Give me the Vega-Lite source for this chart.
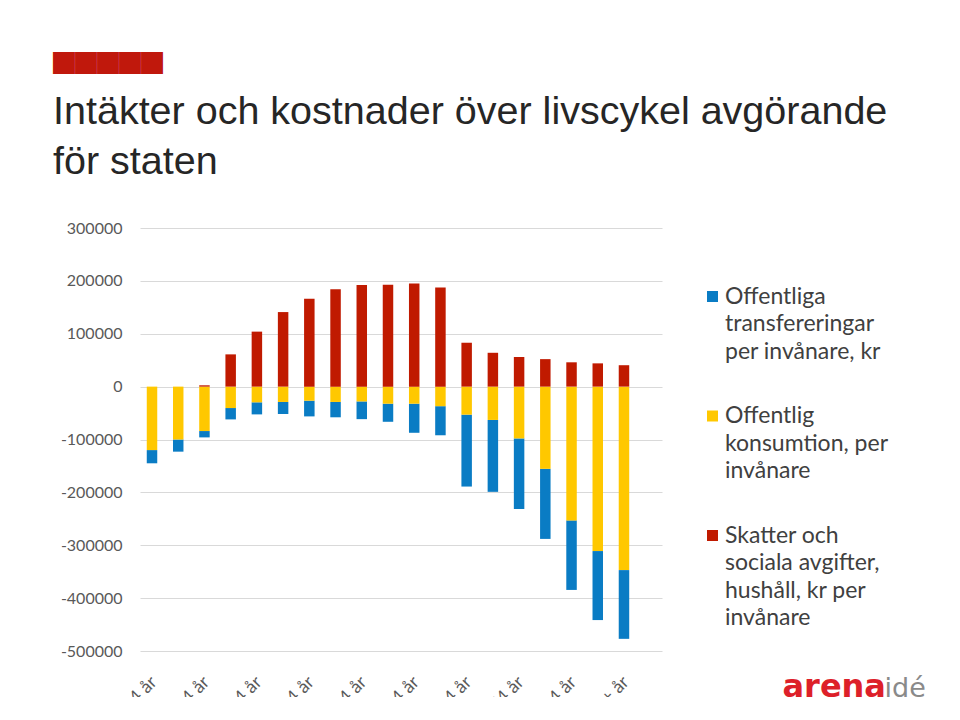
{
  "$schema": "https://vega.github.io/schema/vega-lite/v6.json",
  "width": 522,
  "height": 423,
  "autosize": {"type": "none"},
  "padding": {"left": 140, "top": 228, "right": 298, "bottom": 46},
  "background": "#ffffff",
  "title": {
    "text": "█████",
    "subtitle": ["Intäkter och kostnader över livscykel avgörande", "för staten"],
    "anchor": "start",
    "frame": "group",
    "dx": -87,
    "offset": 38,
    "font": "Noto Sans CJK JP",
    "fontSize": 22,
    "fontWeight": "normal",
    "color": "#c0180c",
    "subtitleFont": "Liberation Sans",
    "subtitleFontSize": 39.5,
    "subtitleColor": "#262626",
    "subtitleLineHeight": 50,
    "subtitlePadding": 17
  },
  "data": {
    "values": [
      {"alder": "0-4 år", "serie": "T", "varde": -25000},
      {"alder": "0-4 år", "serie": "K", "varde": -120000},
      {"alder": "0-4 år", "serie": "S", "varde": 0},
      {"alder": "5-9 år", "serie": "T", "varde": -23000},
      {"alder": "5-9 år", "serie": "K", "varde": -100000},
      {"alder": "5-9 år", "serie": "S", "varde": 0},
      {"alder": "10-14 år", "serie": "T", "varde": -12000},
      {"alder": "10-14 år", "serie": "K", "varde": -84000},
      {"alder": "10-14 år", "serie": "S", "varde": 2500},
      {"alder": "15-19 år", "serie": "T", "varde": -21500},
      {"alder": "15-19 år", "serie": "K", "varde": -40500},
      {"alder": "15-19 år", "serie": "S", "varde": 61000},
      {"alder": "20-24 år", "serie": "T", "varde": -22800},
      {"alder": "20-24 år", "serie": "K", "varde": -29700},
      {"alder": "20-24 år", "serie": "S", "varde": 104000},
      {"alder": "25-29 år", "serie": "T", "varde": -22800},
      {"alder": "25-29 år", "serie": "K", "varde": -29000},
      {"alder": "25-29 år", "serie": "S", "varde": 141000},
      {"alder": "30-34 år", "serie": "T", "varde": -29700},
      {"alder": "30-34 år", "serie": "K", "varde": -26600},
      {"alder": "30-34 år", "serie": "S", "varde": 166000},
      {"alder": "35-39 år", "serie": "T", "varde": -29000},
      {"alder": "35-39 år", "serie": "K", "varde": -29000},
      {"alder": "35-39 år", "serie": "S", "varde": 184000},
      {"alder": "40-44 år", "serie": "T", "varde": -33500},
      {"alder": "40-44 år", "serie": "K", "varde": -28000},
      {"alder": "40-44 år", "serie": "S", "varde": 192000},
      {"alder": "45-49 år", "serie": "T", "varde": -34200},
      {"alder": "45-49 år", "serie": "K", "varde": -32300},
      {"alder": "45-49 år", "serie": "S", "varde": 192500},
      {"alder": "50-54 år", "serie": "T", "varde": -55000},
      {"alder": "50-54 år", "serie": "K", "varde": -32300},
      {"alder": "50-54 år", "serie": "S", "varde": 195000},
      {"alder": "55-59 år", "serie": "T", "varde": -55000},
      {"alder": "55-59 år", "serie": "K", "varde": -37000},
      {"alder": "55-59 år", "serie": "S", "varde": 187500},
      {"alder": "60-64 år", "serie": "T", "varde": -136000},
      {"alder": "60-64 år", "serie": "K", "varde": -53000},
      {"alder": "60-64 år", "serie": "S", "varde": 83000},
      {"alder": "65-69 år", "serie": "T", "varde": -136000},
      {"alder": "65-69 år", "serie": "K", "varde": -63000},
      {"alder": "65-69 år", "serie": "S", "varde": 64000},
      {"alder": "70-74 år", "serie": "T", "varde": -133500},
      {"alder": "70-74 år", "serie": "K", "varde": -98000},
      {"alder": "70-74 år", "serie": "S", "varde": 56000},
      {"alder": "75-79 år", "serie": "T", "varde": -132500},
      {"alder": "75-79 år", "serie": "K", "varde": -155500},
      {"alder": "75-79 år", "serie": "S", "varde": 52000},
      {"alder": "80-84 år", "serie": "T", "varde": -131500},
      {"alder": "80-84 år", "serie": "K", "varde": -253000},
      {"alder": "80-84 år", "serie": "S", "varde": 46000},
      {"alder": "85-89 år", "serie": "T", "varde": -130500},
      {"alder": "85-89 år", "serie": "K", "varde": -311000},
      {"alder": "85-89 år", "serie": "S", "varde": 44000},
      {"alder": "90+ år", "serie": "T", "varde": -130000},
      {"alder": "90+ år", "serie": "K", "varde": -347000},
      {"alder": "90+ år", "serie": "S", "varde": 40500}
    ]
  },
  "mark": {"type": "bar"},
  "encoding": {
    "x": {
      "field": "alder",
      "type": "nominal",
      "sort": null,
      "scale": {"paddingInner": 0.6, "paddingOuter": 0.754, "align": 0.171},
      "axis": {
        "values": ["0-4 år", "10-14 år", "20-24 år", "30-34 år", "40-44 år", "50-54 år", "60-64 år", "70-74 år", "80-84 år", "90+ år"],
        "labelAngle": -45,
        "labelAlign": "right",
        "labelBaseline": "top",
        "labelPadding": 22,
        "labelOffset": -4,
        "labelFont": "Lato",
        "labelFontSize": 18,
        "labelColor": "#595959",
        "ticks": false,
        "domain": false,
        "grid": false,
        "title": "arena",
        "titleX": 642,
        "titleY": 45,
        "titleAlign": "left",
        "titleBaseline": "alphabetic",
        "titleAngle": 0,
        "titleFont": "DejaVu Sans",
        "titleFontWeight": "bold",
        "titleFontSize": 32,
        "titleColor": "#dd2029"
      }
    },
    "y": {
      "field": "varde",
      "type": "quantitative",
      "stack": "zero",
      "scale": {"domain": [-500000, 300000], "nice": false},
      "axis": {
        "values": [-500000, -400000, -300000, -200000, -100000, 0, 100000, 200000, 300000],
        "labelExpr": "'' + datum.value",
        "labelFont": "Lato",
        "labelFontSize": 16,
        "labelColor": "#595959",
        "labelPadding": 18,
        "ticks": false,
        "domain": false,
        "grid": true,
        "gridColor": "#d9d9d9",
        "gridWidth": 1,
        "title": "idé",
        "titleX": 744,
        "titleY": 468,
        "titleAngle": 0,
        "titleAlign": "left",
        "titleBaseline": "alphabetic",
        "titleFont": "DejaVu Sans",
        "titleFontWeight": "normal",
        "titleFontSize": 27,
        "titleColor": "#8a8a8a"
      }
    },
    "color": {
      "field": "serie",
      "type": "nominal",
      "scale": {"domain": ["T", "K", "S"], "range": ["#0a7cc4", "#ffc800", "#c01a00"]},
      "legend": {
        "title": null,
        "orient": "none",
        "legendX": 561,
        "legendY": 57,
        "symbolType": "square",
        "symbolSize": 121,
        "symbolStrokeWidth": 0,
        "labelFont": "Lato",
        "labelFontSize": 23,
        "labelColor": "#404040",
        "labelOffset": 1,
        "labelBaseline": "alphabetic",
        "labelLimit": 300,
        "rowPadding": 40.5,
        "labelExpr": "datum.value == 'T' ? ['Offentliga', 'transfereringar', 'per invånare, kr'] : datum.value == 'K' ? ['Offentlig', 'konsumtion, per', 'invånare'] : ['Skatter och', 'sociala avgifter,', 'hushåll, kr per', 'invånare']",
        "encode": {"labels": {"update": {"lineHeight": {"value": 27.5}, "dy": {"value": 7}}}}
      }
    },
    "order": {"field": "serie", "sort": "ascending"}
  },
  "config": {
    "view": {"stroke": null},
    "legend": {"padding": 0}
  }
}
